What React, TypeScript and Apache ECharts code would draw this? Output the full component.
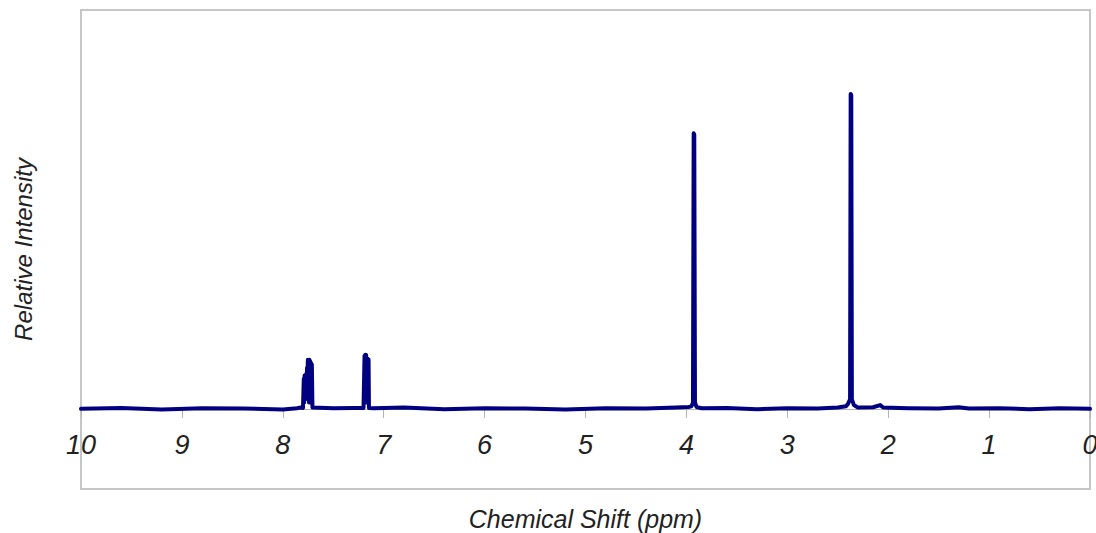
import React, { useEffect, useRef } from "react";
import * as echarts from "echarts";

// Chemical shift (ppm) and relative intensity of the spectrum trace
const shifts: number[] = [
  10.0, 9.6, 9.2, 8.8, 8.4, 8.0, 7.86, 7.82,
  7.8, 7.792, 7.788, 7.784, 7.78, 7.776, 7.772, 7.768, 7.764, 7.76, 7.756, 7.752, 7.748, 7.744, 7.74, 7.736, 7.732, 7.728, 7.724, 7.72, 7.716, 7.712, 7.706,
  7.5, 7.3, 7.2,
  7.19, 7.186, 7.182, 7.178, 7.174, 7.17, 7.166, 7.162, 7.158, 7.154, 7.15, 7.146,
  7.1, 6.8, 6.4, 6.0, 5.6, 5.2, 4.8, 4.4, 4.1, 3.98,
  3.95, 3.935, 3.928, 3.922, 3.915, 3.9, 3.85, 3.6, 3.3, 3.0, 2.7, 2.5, 2.42,
  2.4, 2.378, 2.372, 2.366, 2.36, 2.34, 2.3, 2.15, 2.08, 2.05, 1.8, 1.5, 1.3, 1.2, 0.9, 0.6, 0.3, 0.0,
];
const intensities: number[] = [
  0.0, 0.003, -0.002, 0.002, 0.001, -0.002, 0.002, 0.004,
  0.003, 0.095, 0.02, 0.105, 0.03, 0.108, 0.04, 0.11, 0.05, 0.13, 0.04, 0.155, 0.03, 0.152, 0.02, 0.155, 0.03, 0.15, 0.02, 0.145, 0.02, 0.14, 0.004,
  0.002, 0.003, 0.003,
  0.168, 0.02, 0.171, 0.03, 0.17, 0.02, 0.155, 0.03, 0.158, 0.02, 0.156, 0.003,
  0.002, 0.004, -0.001, 0.002, 0.001, -0.002, 0.002, 0.001, 0.004, 0.006,
  0.008, 0.02, 0.87, 0.865, 0.02, 0.006, 0.002, 0.003, -0.001, 0.002, 0.001, 0.004, 0.008,
  0.015, 0.03, 0.994, 0.99, 0.03, 0.012, 0.004, 0.005, 0.012, 0.004, 0.002, 0.001, 0.005, 0.001, 0.002, -0.001, 0.002, 0.0,
];
const xTicks = { min: 0, max: 10, interval: 1 };
const yRange = { min: -0.253, max: 1.259 };
const xTitle = "Chemical Shift (ppm)";
const yTitle = "Relative Intensity";

export default function App() {
  const ref = useRef<HTMLDivElement>(null);
  useEffect(() => {
    if (!ref.current) return;
    const chart = echarts.init(ref.current, undefined, { renderer: "svg" });
    const data = shifts.map((s, i) => [s, intensities[i]]);
    const font = "'Liberation Sans', Arial, sans-serif";
    chart.setOption({
      animation: false,
      backgroundColor: "#ffffff",
      grid: {
        left: 81,
        right: 6,
        top: 10,
        bottom: 44,
        outerBoundsMode: "none",
        containLabel: false,
        show: true,
        borderColor: "#c6c6c6",
        borderWidth: 2,
        backgroundColor: "#ffffff",
      },
      xAxis: {
        type: "value",
        inverse: true,
        position: "bottom",
        offset: -80,
        min: xTicks.min,
        max: xTicks.max,
        interval: xTicks.interval,
        name: xTitle,
        nameLocation: "middle",
        nameGap: 97,
        nameTextStyle: { fontFamily: font, fontStyle: "italic", fontSize: 25, color: "#222" },
        axisLine: { show: true, onZero: false, lineStyle: { color: "#b3b3b3", width: 1 } },
        axisTick: { show: true, length: 9, lineStyle: { color: "#b3b3b3", width: 1 } },
        axisLabel: { margin: 22, fontFamily: font, fontStyle: "italic", fontSize: 27, color: "#222" },
        splitLine: { show: false },
      },
      yAxis: {
        type: "value",
        min: yRange.min,
        max: yRange.max,
        name: yTitle,
        nameLocation: "middle",
        nameGap: 46,
        nameTextStyle: { fontFamily: font, fontStyle: "italic", fontSize: 24, color: "#222" },
        axisLine: { show: false },
        axisTick: { show: false },
        axisLabel: { show: false },
        splitLine: { show: false },
      },
      series: [
        {
          type: "line",
          data,
          showSymbol: false,
          symbol: "none",
          lineStyle: { color: "#000080", width: 4, cap: "round", join: "round" },
        },
      ],
    });
    return () => chart.dispose();
  }, []);
  return <div ref={ref} style={{ position: "fixed", left: 0, top: 0, width: 1096, height: 533 }} />;
}
